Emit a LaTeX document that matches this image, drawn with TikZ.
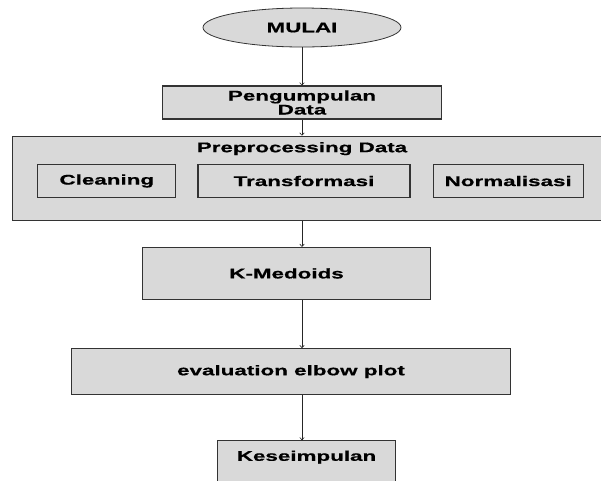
\documentclass[tikz,border=0pt]{standalone}
\usepackage{fontspec}
\setmainfont{Liberation Sans}[FakeStretch=1.6,BoldFeatures={FakeBold=0.6}]
\usetikzlibrary{positioning,shapes.geometric,arrows.meta}

\newcommand{\flowfont}{\fontsize{14}{14}\selectfont\bfseries}

\tikzstyle{startstop} = [draw=black!80,ellipse,fill=black!15,line width=0.8pt,minimum width=198pt,minimum height=39pt,font=\flowfont]
\tikzstyle{pblock}    = [draw=black!80,rectangle,fill=black!15,line width=1.2pt,inner sep=0pt,align=center,font=\flowfont]
\tikzstyle{iblock}    = [draw=black!80,rectangle,line width=1.2pt,inner sep=0pt,minimum height=33pt,font=\flowfont]
\tikzstyle{line}      = [draw=black!85,-{To[length=3pt,width=5pt]},line width=0.6pt]

\begin{document}
\begin{tikzpicture}[x=1pt,y=-1pt]
			\useasboundingbox (0,0) rectangle (601,480);
			\node [startstop] at (302,27.5) (mulai){MULAI};
			\node [pblock,minimum width=279pt,minimum height=33pt,below=38pt of mulai](kumpul){Pengumpulan\\Data};
			\node [pblock,minimum width=592pt,minimum height=84pt,below=16pt of kumpul,xshift=6.5pt](pre){};
			\node [font=\flowfont,inner sep=0pt] at ([yshift=-13pt]pre.north -| kumpul) (pretitle){Preprocessing Data};
			\node [iblock,minimum width=212pt] at (304,181) (trans){Transformasi};
			\node [iblock,minimum width=138pt,left=21pt of trans](clean){Cleaning};
			\node [iblock,minimum width=150pt,right=22pt of trans](norm){Normalisasi};
			
			\node [pblock,minimum width=288pt,minimum height=52pt,below=26pt of pre,xshift=-22pt](kmed){K-Medoids};
			\node [pblock,minimum width=439pt,minimum height=46pt,below=48pt of kmed,xshift=4.5pt](eval){evaluation elbow plot};
			\node [pblock,minimum width=178pt,text height=20pt,text depth=34pt,below=45pt of eval,xshift=15.5pt](kes){Keseimpulan};
			
			\draw [line] (mulai) -- (kumpul);
			\draw [line] (kumpul.south) -- (kumpul.south |- pre.north);
			\draw [line] (pre.south -| kumpul) -- (kmed.north -| kumpul);
			\draw [line] (kmed.south -| kumpul) -- (eval.north -| kumpul);
			\draw [line] (eval.south -| kumpul) -- (kes.north -| kumpul);
\end{tikzpicture}
\end{document}
